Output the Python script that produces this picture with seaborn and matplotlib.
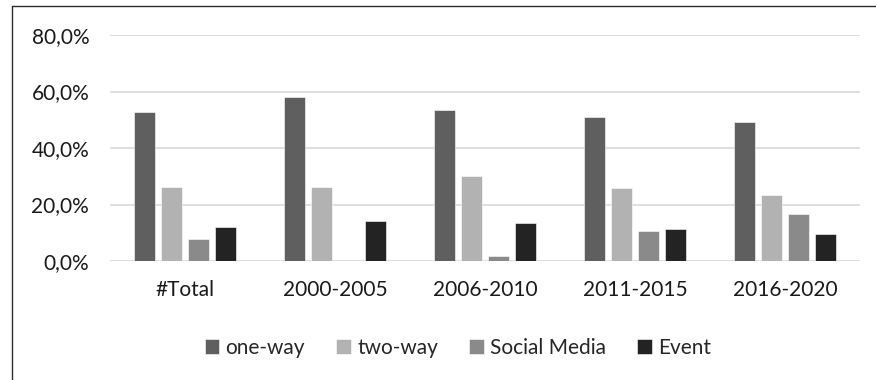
import matplotlib
matplotlib.use("Agg")
import matplotlib.pyplot as plt
import seaborn as sns
import pandas as pd
from matplotlib.lines import Line2D
from matplotlib.ticker import FuncFormatter

categories = ["#Total", "2000-2005", "2006-2010", "2011-2015", "2016-2020"]
series = ["one-way", "two-way", "Social Media", "Event"]
one_way = [52.8, 58.2, 53.5, 50.8, 49.2]
two_way = [26.3, 26.3, 30.2, 25.9, 23.5]
social_media = [7.7, 0.5, 1.6, 10.6, 16.5]
event = [12.1, 14.1, 13.6, 11.4, 9.7]
colors = ["#5f5f5f", "#b2b2b2", "#8a8a8a", "#232323"]

rows = []
for name, vals in zip(series, [one_way, two_way, social_media, event]):
    for c, v in zip(categories, vals):
        rows.append({"cat": c, "series": name, "value": v})
df = pd.DataFrame(rows)

sns.set_style("white")
plt.rcParams["font.family"] = ["Lato", "DejaVu Sans"]

W, H = 876, 380
fig = plt.figure(figsize=(8.76, 3.8), dpi=100)
ax = fig.add_axes([110 / W, 1 - 261 / H, 750 / W, (261 - 35) / H])
sns.barplot(data=df, x="cat", y="value", hue="series", order=categories,
            hue_order=series, palette=colors, width=0.72, gap=0.2,
            edgecolor="white", linewidth=0.4, ax=ax, legend=True)

ax.set_ylim(0, 80)
ax.set_yticks([0, 20, 40, 60, 80])
ax.yaxis.set_major_formatter(FuncFormatter(lambda v, p: f"{v:.1f}%".replace(".", ",")))
ax.grid(axis="y", color="#d9d9d9", linewidth=1.2)
ax.set_axisbelow(True)
for s in ax.spines.values():
    s.set_visible(False)
ax.set_xlabel("")
ax.set_ylabel("")
ax.tick_params(axis="both", length=0, labelsize=15, colors="#1a1a1a")
ax.tick_params(axis="y", pad=15)
ax.tick_params(axis="x", pad=14)
ax.set_xlim(-0.5, 4.5)

handles, labels = ax.get_legend_handles_labels()
ax.get_legend().remove()
fig.legend(handles, labels, loc="center", bbox_to_anchor=(458 / W, 1 - 348 / H), ncol=4,
           frameon=False, fontsize=15, handlelength=0.7, handleheight=0.7,
           handletextpad=0.3, columnspacing=1.5)

# chart-area border: visible only on left and top (cropped on right/bottom)
fig.add_artist(Line2D([12 / W, 12 / W], [0, 1 - 6 / H], transform=fig.transFigure,
                      color="#2b2b2b", linewidth=1.0))
fig.add_artist(Line2D([12 / W, 1], [1 - 6 / H, 1 - 6 / H], transform=fig.transFigure,
                      color="#2b2b2b", linewidth=1.0))

fig.savefig("out.png", dpi=100)
